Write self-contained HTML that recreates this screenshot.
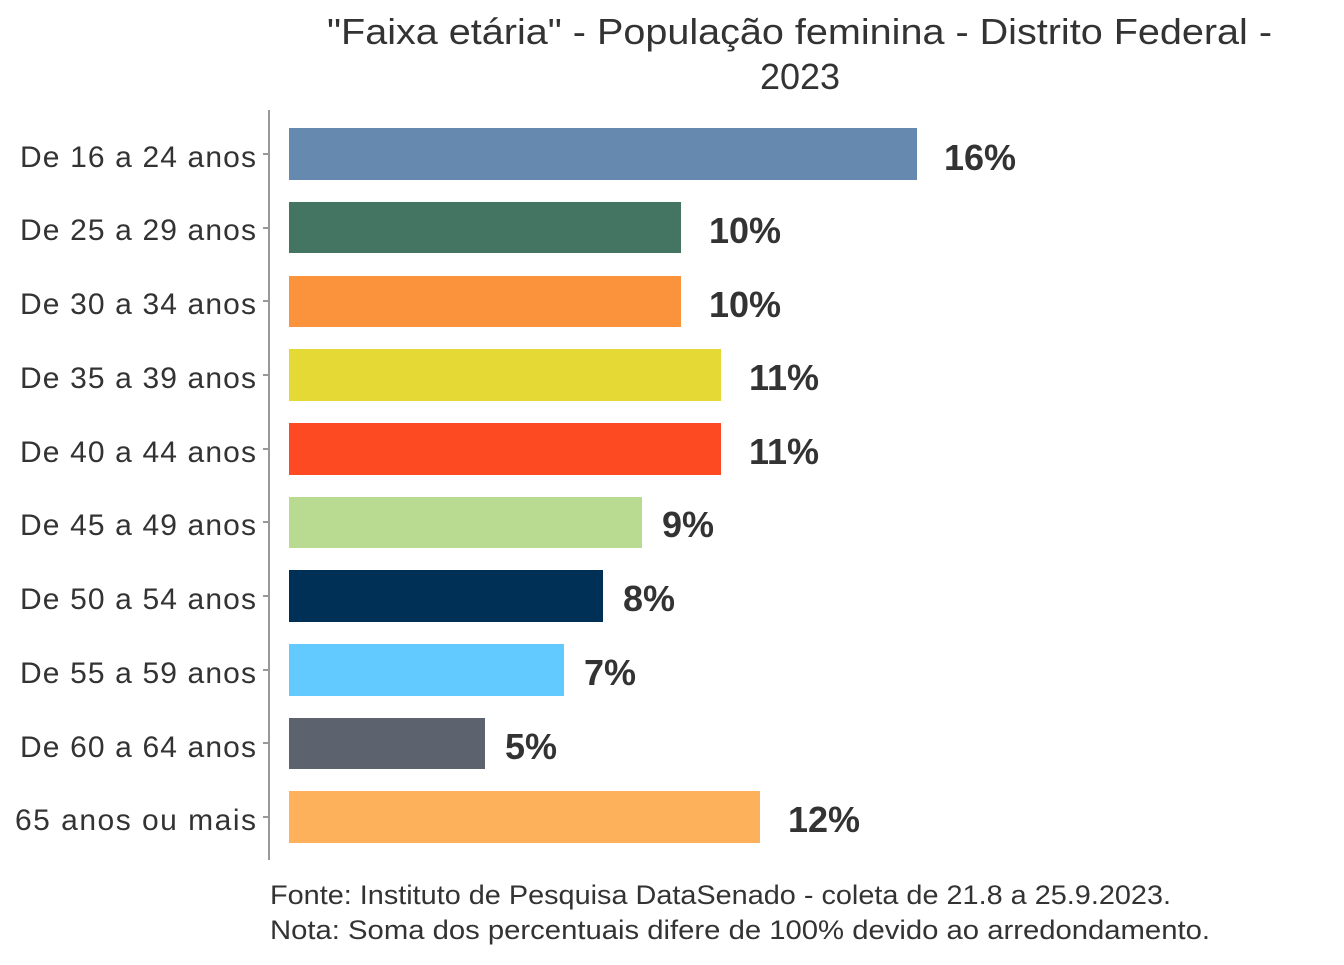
<!DOCTYPE html>
<html><head><meta charset="utf-8"><style>body{margin:0;background:#fff}</style></head>
<body>
<svg width="1344" height="960" xmlns="http://www.w3.org/2000/svg" font-family="Liberation Sans, sans-serif">
<rect width="1344" height="960" fill="#fff"/>
<text x="327" y="44" font-size="36" fill="#333" textLength="945" lengthAdjust="spacingAndGlyphs">"Faixa etária" - População feminina - Distrito Federal -</text>
<text x="800" y="89" font-size="36" text-anchor="middle" fill="#333">2023</text>
<line x1="269" y1="110" x2="269" y2="860" stroke="#999" stroke-width="2"/>
<g font-size="30" fill="#333" lengthAdjust="spacingAndGlyphs">
<text x="20" y="167" textLength="236">De 16 a 24 anos</text>
<text x="20" y="240" textLength="236">De 25 a 29 anos</text>
<text x="20" y="314" textLength="236">De 30 a 34 anos</text>
<text x="20" y="388" textLength="236">De 35 a 39 anos</text>
<text x="20" y="462" textLength="236">De 40 a 44 anos</text>
<text x="20" y="535" textLength="236">De 45 a 49 anos</text>
<text x="20" y="609" textLength="236">De 50 a 54 anos</text>
<text x="20" y="683" textLength="236">De 55 a 59 anos</text>
<text x="20" y="757" textLength="236">De 60 a 64 anos</text>
<text x="15" y="830" textLength="241">65 anos ou mais</text>
</g>
<g stroke="#999" stroke-width="2">
<line x1="263" x2="269" y1="154" y2="154"/><line x1="263" x2="269" y1="228" y2="228"/>
<line x1="263" x2="269" y1="301" y2="301"/><line x1="263" x2="269" y1="375" y2="375"/>
<line x1="263" x2="269" y1="449" y2="449"/><line x1="263" x2="269" y1="522" y2="522"/>
<line x1="263" x2="269" y1="596" y2="596"/><line x1="263" x2="269" y1="670" y2="670"/>
<line x1="263" x2="269" y1="743" y2="743"/><line x1="263" x2="269" y1="817" y2="817"/>
</g>
<rect x="289" y="128" width="628" height="52" fill="#6689b0"/>
<rect x="289" y="202" width="392" height="51" fill="#447563"/>
<rect x="289" y="276" width="392" height="51" fill="#fb923c"/>
<rect x="289" y="349" width="432" height="52" fill="#e5d935"/>
<rect x="289" y="423" width="432" height="52" fill="#fe4a22"/>
<rect x="289" y="497" width="353" height="51" fill="#b8db91"/>
<rect x="289" y="570" width="314" height="52" fill="#003056"/>
<rect x="289" y="644" width="275" height="52" fill="#63caff"/>
<rect x="289" y="718" width="196" height="51" fill="#5c636e"/>
<rect x="289" y="791" width="471" height="52" fill="#fdb15b"/>
<g font-size="36" font-weight="bold" fill="#333">
<text x="944" y="170">16%</text>
<text x="709" y="243">10%</text>
<text x="709" y="317">10%</text>
<text x="749" y="390">11%</text>
<text x="749" y="464">11%</text>
<text x="662" y="537">9%</text>
<text x="623" y="611">8%</text>
<text x="584" y="685">7%</text>
<text x="505" y="759">5%</text>
<text x="788" y="832">12%</text>
</g>
<text x="270" y="904" font-size="27" fill="#333" textLength="901" lengthAdjust="spacingAndGlyphs">Fonte: Instituto de Pesquisa DataSenado - coleta de 21.8 a 25.9.2023.</text>
<text x="270" y="939" font-size="27" fill="#333" textLength="940" lengthAdjust="spacingAndGlyphs">Nota: Soma dos percentuais difere de 100% devido ao arredondamento.</text>
</svg>
</body></html>
